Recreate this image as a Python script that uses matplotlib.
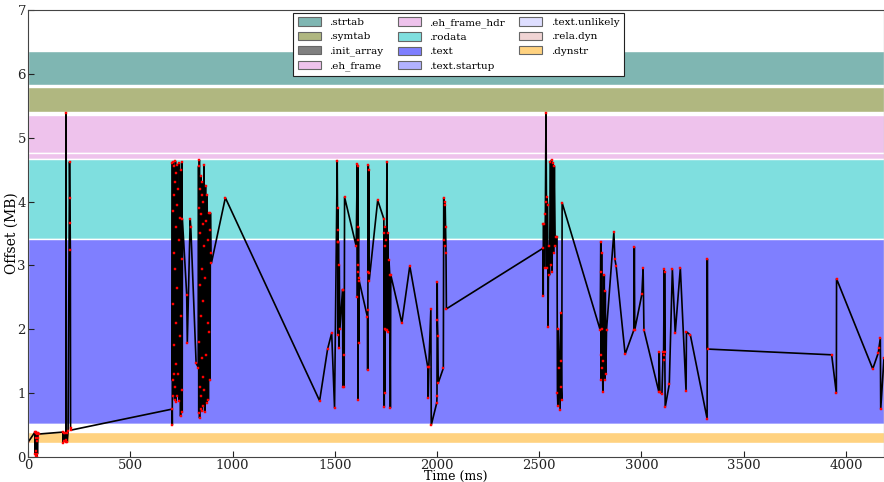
import matplotlib
matplotlib.use("Agg")
import matplotlib.pyplot as plt
from matplotlib.patches import Patch

# ---- sections (MB) ----
section_names = [".strtab", ".symtab", ".init_array", ".eh_frame",
                 ".eh_frame_hdr", ".rodata", ".text", ".text.startup",
                 ".text.unlikely", ".rela.dyn", ".dynstr"]
section_start = [5.83, 5.41, 5.37, 4.76, 4.66, 3.41, 0.517, 0.505, 0.495, 0.40, 0.215]
section_end   = [6.35, 5.80, 5.38, 5.36, 4.76, 4.66, 3.41, 0.512, 0.503, 0.41, 0.387]
section_colors = ["#7fb6b2", "#b0b780", "#808080", "#eec2ec",
                  "#eec2ec", "#7fdfdf", "#7f7fff", "#b2b2ff",
                  "#dedeff", "#f0d4d4", "#ffd280"]

# ---- access trace: time (ms) / offset (MB) ----
early_t = [0, 34, 36, 37, 38, 39, 40, 41, 42, 43, 44, 46, 48, 50, 55,
           171, 172, 174, 176, 180, 185, 186, 187, 189, 192, 196,
           203, 205, 206, 207, 208, 209, 705, 705.5]
early_y = [0.23, 0.39, 0.05, 0.38, 0.02, 0.30, 0.10, 0.39, 0.00, 0.25, 0.36, 0.05, 0.30, 0.38, 0.36,
           0.39, 0.22, 0.38, 0.25, 0.37, 0.24, 5.39, 0.26, 0.38, 0.24, 0.40,
           4.62, 4.06, 3.66, 3.24, 0.45, 0.42, 0.75, 0.50]

cluster1_t = [706, 707, 708, 709, 710, 711, 712, 713, 714, 715, 716, 717, 718, 719, 720,
              721, 722, 723, 724, 725, 726, 727, 728, 729, 730, 732, 734, 736, 738, 740,
              742, 744, 746, 748, 750, 751, 752, 753, 754, 755]
cluster1_y = [4.60, 1.20, 3.85, 0.95, 4.62, 2.40, 4.10, 1.30, 3.20, 4.55, 1.75, 0.90, 4.30, 2.95, 1.10,
              4.63, 3.60, 0.86, 2.10, 4.45, 1.45, 3.95, 0.95, 4.58, 2.65, 1.30, 4.20, 3.40, 0.88, 4.60,
              1.90, 3.75, 0.64, 4.50, 2.20, 1.05, 4.62, 3.10, 0.70, 3.72]

mid1_t = [776, 779, 793, 796, 822]
mid1_y = [2.54, 1.79, 3.73, 3.60, 1.47]

cluster2_t = [833, 834, 835, 836, 837, 838, 839, 840, 841, 842, 843, 844, 845, 846, 847,
              848, 849, 850, 851, 852, 853, 854, 855, 856, 857, 858, 859, 860, 862, 864,
              866, 868, 870, 872, 874, 876, 878, 880, 882, 884, 886, 888, 890, 892, 894, 897]
cluster2_y = [1.40, 4.55, 0.69, 3.90, 1.80, 4.65, 0.61, 2.70, 4.20, 1.10, 3.50, 0.75, 4.40, 2.20, 0.95,
              3.80, 1.55, 4.10, 0.72, 2.95, 4.30, 1.25, 3.65, 0.80, 4.00, 2.45, 1.05, 4.57, 3.30, 0.71,
              2.80, 4.25, 1.60, 3.70, 0.84, 4.10, 2.10, 3.40, 0.90, 3.82, 1.95, 3.55, 1.20, 3.82, 3.20, 3.04]

mid2_t = [965, 1426, 1465, 1485, 1499, 1512, 1514, 1515, 1516, 1517, 1518, 1520, 1522, 1525,
          1538, 1540, 1542, 1544, 1546, 1548, 1605, 1610, 1611, 1612, 1613, 1613.5, 1614, 1615,
          1616, 1617, 1618, 1620, 1660, 1661, 1662, 1664, 1665, 1666, 1667, 1668, 1710,
          1740, 1742, 1743, 1744, 1745, 1746, 1748, 1750, 1752, 1755, 1757, 1759, 1762, 1765,
          1769, 1772, 1774, 1828, 1867, 1955, 1957, 1960, 1970, 1972, 1999, 2000, 2001, 2002,
          2004, 2006, 2031, 2033, 2035, 2037, 2039, 2040, 2042, 2044, 2046]
mid2_y = [4.06, 0.88, 1.69, 1.94, 0.77, 4.64, 3.55, 3.37, 3.90, 1.91, 3.37, 1.70, 3.00, 2.00,
          2.62, 1.10, 2.62, 1.60, 1.10, 4.07, 3.30, 4.59, 2.50, 4.55, 3.00, 0.89, 3.40, 2.90,
          3.60, 1.79, 2.80, 2.75, 2.19, 1.36, 2.30, 4.57, 2.90, 4.50, 2.88, 2.75, 4.02,
          3.73, 0.78, 3.50, 1.00, 3.30, 2.00, 3.60, 3.40, 1.99, 4.62, 1.99, 3.50, 1.95, 3.09,
          2.85, 0.77, 2.85, 2.10, 2.99, 1.41, 0.92, 1.41, 2.32, 0.50, 0.85, 0.95, 2.74, 2.15,
          1.90, 1.16, 1.39, 4.06, 3.40, 4.00, 3.30, 3.95, 3.60, 3.20, 2.32]

late_t = [2519, 2519.5, 2520, 2523, 2526, 2530, 2533, 2535, 2537, 2538, 2541, 2543, 2546, 2550,
          2555, 2558, 2560, 2563, 2566, 2570, 2574, 2578, 2582, 2587, 2589, 2591, 2594, 2598,
          2602, 2604, 2606, 2608, 2610, 2612, 2798, 2801, 2802, 2803, 2804, 2805, 2806, 2808,
          2811, 2813, 2818, 2820, 2823, 2826, 2829, 2865, 2870, 2876, 2920, 2963, 2965, 2967,
          3002, 3008, 3012, 3085, 3087, 3090, 3100, 3106, 3108, 3111, 3112, 3113, 3114, 3116,
          3136, 3151, 3165, 3190, 3218, 3220, 3239, 3321, 3322, 3323, 3930, 3953, 3954, 4131,
          4158, 4161, 4168, 4170, 4186]
late_y = [3.27, 2.52, 3.65, 3.65, 2.96, 3.80, 5.39, 4.00, 2.96, 4.07, 3.95, 2.04, 3.30, 2.85,
          4.62, 3.00, 4.65, 2.90, 4.60, 3.20, 4.55, 3.30, 3.45, 3.45, 1.00, 0.80, 2.00, 1.40,
          0.74, 1.50, 2.26, 1.10, 0.90, 3.98, 1.99, 3.37, 1.21, 2.90, 1.60, 3.20, 1.40, 2.00,
          1.02, 1.50, 2.85, 1.21, 2.60, 1.30, 1.99, 3.52, 3.10, 2.99, 1.61, 1.99, 3.29, 1.99,
          2.55, 2.96, 1.99, 1.02, 1.64, 1.02, 0.99, 1.64, 1.52, 2.94, 1.60, 2.90, 1.64, 0.78,
          1.14, 2.94, 1.94, 2.96, 1.03, 1.96, 1.91, 0.60, 3.10, 1.69, 1.60, 1.00, 2.79, 1.38,
          1.63, 1.70, 1.86, 0.75, 1.55]

x_ticks = [0, 500, 1000, 1500, 2000, 2500, 3000, 3500, 4000]
y_ticks = [0, 1, 2, 3, 4, 5, 6, 7]

times = early_t + cluster1_t + mid1_t + cluster2_t + mid2_t + late_t
offsets = early_y + cluster1_y + mid1_y + cluster2_y + mid2_y + late_y

plt.rcParams['font.family'] = ['DejaVu Serif']
fig = plt.figure(figsize=(8.84, 4.82), dpi=100)
ax = fig.add_axes([0.0317, 0.0519, 0.9683, 0.9274])

for s, e, c in zip(section_start, section_end, section_colors):
    ax.axhspan(s, e, facecolor=c, edgecolor="white", linewidth=1.0)

ax.plot(times, offsets, color="black", linewidth=1.2, marker="s", markersize=1.6,
        markerfacecolor="red", markeredgecolor="red", markeredgewidth=0.3)

ax.set_xlim(0, 4186)
ax.set_ylim(0, 7)
ax.set_xticks(x_ticks)
ax.set_yticks(y_ticks)
ax.tick_params(direction="in", length=4, labelsize=9.5, colors="#222222", pad=1.5)
for sp in ax.spines.values():
    sp.set_color("#444444")
ax.set_xlabel("Time (ms)", fontsize=9)
ax.xaxis.set_label_coords(0.5, -0.029)
ax.set_ylabel("Offset (MB)", fontsize=10, labelpad=-1)

handles = [Patch(facecolor=c, edgecolor="#666666", linewidth=0.8) for c in section_colors]
leg = ax.legend(handles, section_names, ncol=3, loc="upper center",
                bbox_to_anchor=(0.503, 1.0), fontsize=7.5, borderaxespad=0.25,
                fancybox=False, framealpha=1.0, edgecolor="#222222",
                handlelength=2.2, handleheight=0.9, columnspacing=1.4,
                labelspacing=0.42, borderpad=0.45)
leg.get_frame().set_linewidth(0.8)

fig.savefig("out.png", dpi=100)
